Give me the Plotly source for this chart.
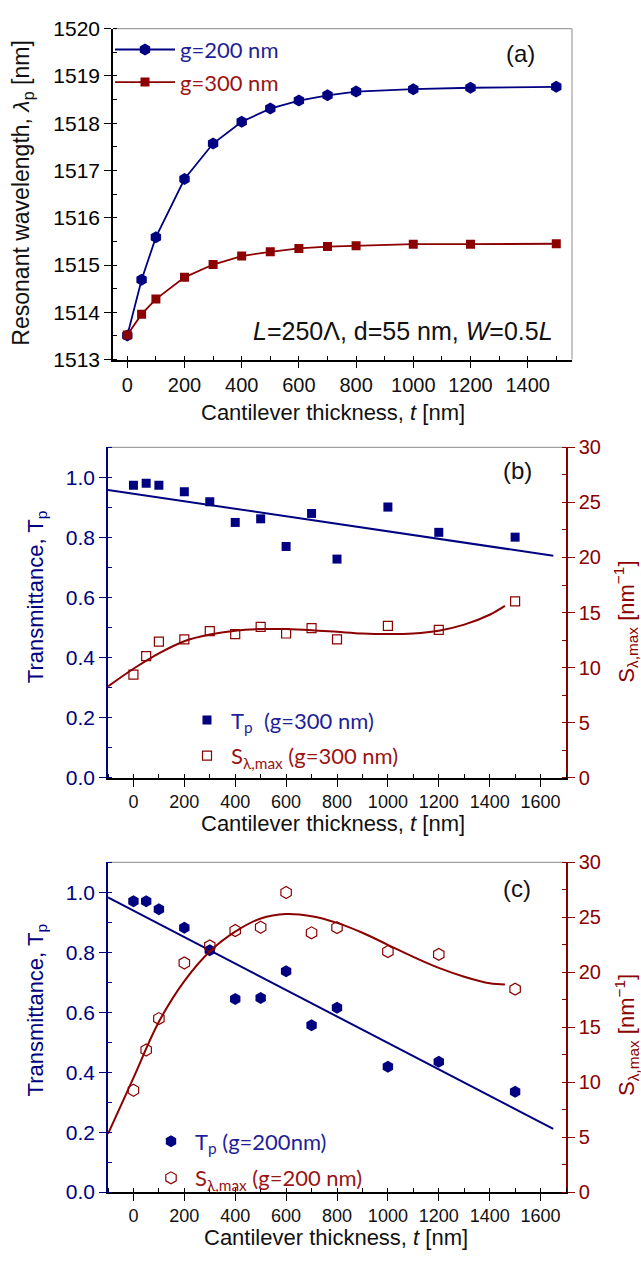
import plotly.graph_objects as go

W, H = 641, 1262

BLUE = "#000080"
RED = "#8b0000"
BLUE_TXT = "#1f1f99"
RED_TXT = "#9a1414"
FRAME = "#a0a0a0"
AXIS_FONT = "Liberation Sans, Arial, sans-serif"
LEG_FONT = "Lato, sans-serif"

# ---- data ----
thickness = [0, 50, 100, 200, 300, 400, 500, 600, 700, 800, 1000, 1200, 1500]

# (a) resonant wavelength [nm]
lam_g200 = [1513.51, 1514.69, 1515.59, 1516.82, 1517.57, 1518.03, 1518.31,
            1518.48, 1518.59, 1518.67, 1518.72, 1518.75, 1518.77]
lam_g300 = [1513.52, 1513.96, 1514.28, 1514.74, 1515.01, 1515.19, 1515.28,
            1515.35, 1515.39, 1515.41, 1515.44, 1515.44, 1515.45]

# (b) g = 300 nm
tp_g300 = [0.974, 0.980, 0.974, 0.952, 0.919, 0.850, 0.862, 0.770, 0.880,
           0.728, 0.901, 0.817, 0.801]
s_g300 = [9.36, 11.05, 12.36, 12.57, 13.31, 13.04, 13.70, 13.10, 13.58,
          12.57, 13.79, 13.43, 16.01]

# (c) g = 200 nm
tp_g200 = [0.970, 0.970, 0.944, 0.882, 0.807, 0.644, 0.648, 0.737, 0.557,
           0.615, 0.418, 0.435, 0.335]
s_g200 = [9.27, 12.93, 15.79, 20.85, 22.40, 23.80, 24.10, 27.26, 23.59,
          24.07, 21.89, 21.63, 18.47]

# fitted trend lines
tp_fit_x = [-100, 1650]
tp_fit_g300 = [0.958, 0.739]
tp_fit_g200 = [0.983, 0.211]

s_fit_x = [-100, 0, 100, 200, 300, 400, 500, 600, 700, 800, 900, 1000,
           1100, 1200, 1300, 1400, 1460]
s_fit_g300 = [8.3, 9.9, 11.3, 12.4, 13.0, 13.35, 13.5, 13.5, 13.4, 13.25,
              13.1, 13.05, 13.1, 13.35, 13.9, 14.8, 15.6]
s_fit_g200 = [5.3, 10.4, 15.5, 19.2, 21.9, 23.7, 24.9, 25.3, 25.1, 24.5,
              23.6, 22.5, 21.4, 20.4, 19.6, 19.0, 18.9]


def dom_x(left, right):
    return [left / W, right / W]


def dom_y(top, bottom):
    return [1 - bottom / H, 1 - top / H]


def px(x):
    return x / W


def py(y):
    return 1 - y / H


fig = go.Figure()

# ---- (a) ----
fig.add_trace(go.Scatter(
    x=thickness, y=lam_g200, mode="lines+markers", xaxis="x", yaxis="y",
    name=f'<span style="color:{BLUE_TXT}">g=200 nm</span>',
    line=dict(color=BLUE, width=1.8),
    marker=dict(symbol="hexagon", size=12, color=BLUE),
    legend="legend", legendgroup="a1"))
fig.add_trace(go.Scatter(
    x=thickness, y=lam_g300, mode="lines+markers", xaxis="x", yaxis="y",
    name=f'<span style="color:{RED_TXT}">g=300 nm</span>',
    line=dict(color=RED, width=1.8),
    marker=dict(symbol="square", size=9, color=RED),
    legend="legend", legendgroup="a2"))

# ---- (b) ----
fig.add_trace(go.Scatter(
    x=tp_fit_x, y=tp_fit_g300, mode="lines", xaxis="x2", yaxis="y2",
    line=dict(color=BLUE, width=2), showlegend=False))
fig.add_trace(go.Scatter(
    x=s_fit_x, y=s_fit_g300, mode="lines", xaxis="x2", yaxis="y3",
    line=dict(color=RED, width=2, shape="spline", smoothing=1.0),
    showlegend=False))
fig.add_trace(go.Scatter(
    x=thickness, y=tp_g300, mode="markers", xaxis="x2", yaxis="y2",
    name=f'<span style="color:{BLUE_TXT}">T<sub>p</sub>\u00a0 (g=300 nm)</span>',
    marker=dict(symbol="square", size=9, color=BLUE),
    legend="legend2", legendgroup="b1"))
fig.add_trace(go.Scatter(
    x=thickness, y=s_g300, mode="markers", xaxis="x2", yaxis="y3",
    name=f'<span style="color:{RED_TXT}">S<sub>λ,max</sub> (g=300 nm)</span>',
    marker=dict(symbol="square-open", size=9, color=RED, line=dict(width=1.2)),
    legend="legend2", legendgroup="b2"))

# ---- (c) ----
fig.add_trace(go.Scatter(
    x=tp_fit_x, y=tp_fit_g200, mode="lines", xaxis="x3", yaxis="y4",
    line=dict(color=BLUE, width=2), showlegend=False))
fig.add_trace(go.Scatter(
    x=s_fit_x, y=s_fit_g200, mode="lines", xaxis="x3", yaxis="y5",
    line=dict(color=RED, width=2, shape="spline", smoothing=1.0),
    showlegend=False))
fig.add_trace(go.Scatter(
    x=thickness, y=tp_g200, mode="markers", xaxis="x3", yaxis="y4",
    name=f'<span style="color:{BLUE_TXT}">T<sub>p</sub> (g=200nm)</span>',
    marker=dict(symbol="hexagon", size=12, color=BLUE),
    legend="legend3", legendgroup="c1"))
fig.add_trace(go.Scatter(
    x=thickness, y=s_g200, mode="markers", xaxis="x3", yaxis="y5",
    name=f'<span style="color:{RED_TXT}">S<sub>λ,max</sub> (g=200 nm)</span>',
    marker=dict(symbol="hexagon-open", size=12, color=RED, line=dict(width=1.2)),
    legend="legend3", legendgroup="c2"))


def xaxis_cfg(domain, anchor, rng, size):
    return dict(
        domain=domain, anchor=anchor, range=rng, dtick=200, tick0=0,
        showline=True, linecolor="#000000", linewidth=1.5,
        ticks="outside", ticklen=7, tickwidth=1.3, tickcolor="#000000",
        minor=dict(ticks="inside", ticklen=4, tickwidth=1.2, dtick=100,
                   tickcolor="#000000", showgrid=False),
        showgrid=False, zeroline=False,
        tickfont=dict(family=AXIS_FONT, size=size, color="#111111"))


def yaxis_cfg(domain, anchor, rng, dtick, color, size, side="left",
              overlaying=None, fmt=None):
    cfg = dict(
        domain=domain, anchor=anchor, range=rng, dtick=dtick, tick0=0,
        side=side, showline=True, linecolor=color, linewidth=1.5,
        ticks="outside", ticklen=7, tickwidth=1.3, tickcolor=color,
        minor=dict(ticks="inside", ticklen=4, tickwidth=1.2, dtick=dtick / 2,
                   tickcolor=color, showgrid=False),
        showgrid=False, zeroline=False,
        tickfont=dict(family=AXIS_FONT, size=size, color=color))
    if overlaying:
        cfg["overlaying"] = overlaying
    if fmt:
        cfg["tickformat"] = fmt
    return cfg


dom_a_x, dom_a_y = dom_x(113, 572), dom_y(17, 354)
dom_b_x, dom_b_y = dom_x(108, 566), dom_y(443.4, 780)
dom_c_x, dom_c_y = dom_x(108, 566), dom_y(866.2, 1202)

leg_font = dict(family=LEG_FONT, size=22)

fig.update_layout(
    width=W, height=H,
    margin=dict(l=0, r=0, t=0, b=0),
    paper_bgcolor="white", plot_bgcolor="white",
    xaxis=xaxis_cfg(dom_a_x, "y", [-50, 1555], 20),
    yaxis=yaxis_cfg(dom_a_y, "x", [1513, 1520], 1, "#000000", 21, fmt="d"),
    xaxis2=xaxis_cfg(dom_b_x, "y2", [-100, 1700], 18),
    yaxis2=yaxis_cfg(dom_b_y, "x2", [0, 1.1], 0.2, BLUE, 21, fmt=".1f"),
    yaxis3=yaxis_cfg(dom_b_y, "x2", [0, 30], 5, RED, 20, side="right",
                     overlaying="y2"),
    xaxis3=xaxis_cfg(dom_c_x, "y4", [-100, 1700], 18),
    yaxis4=yaxis_cfg(dom_c_y, "x3", [0, 1.1], 0.2, BLUE, 21, fmt=".1f"),
    yaxis5=yaxis_cfg(dom_c_y, "x3", [0, 30], 5, RED, 20, side="right",
                     overlaying="y4"),
    legend=dict(x=px(110), y=py(17), xanchor="left", yanchor="top",
                bgcolor="rgba(0,0,0,0)", tracegroupgap=1, itemwidth=60,
                font=leg_font),
    legend2=dict(x=px(183), y=py(700), xanchor="left", yanchor="top",
                 bgcolor="rgba(0,0,0,0)", tracegroupgap=4, itemwidth=38,
                 font=leg_font),
    legend3=dict(x=px(147), y=py(1129), xanchor="left", yanchor="top",
                 bgcolor="rgba(0,0,0,0)", tracegroupgap=5, itemwidth=38,
                 font=leg_font),
    showlegend=True,
)

# light frame on the top (and right for panel a)
frame = dict(type="line", line=dict(color=FRAME, width=1.2), layer="below")
fig.add_shape(frame, xref="x domain", yref="y domain", x0=0, x1=1, y0=1, y1=1)
fig.add_shape(frame, xref="x domain", yref="y domain", x0=1, x1=1, y0=0, y1=1)
fig.add_shape(frame, xref="x2 domain", yref="y2 domain", x0=0, x1=1, y0=1, y1=1)
fig.add_shape(frame, xref="x3 domain", yref="y4 domain", x0=0, x1=1, y0=1, y1=1)


def note(text, x, y, size, color="#111111", angle=0, xanchor="center",
         family=AXIS_FONT):
    fig.add_annotation(text=text, x=px(x), y=py(y), xref="paper", yref="paper",
                       showarrow=False, textangle=angle, xanchor=xanchor,
                       yanchor="middle",
                       font=dict(family=family, size=size, color=color))


xtitle = "Cantilever thickness, <i>t</i> [nm]"
note(xtitle, 333, 408, 22)
note(xtitle, 333, 827, 22)
note(xtitle, 336, 1248, 22)

note("Resonant wavelength, <i>λ</i><sub>p</sub> [nm]", 23, 185, 23, angle=-90)
note("Transmittance, T<sub>p</sub>", 37, 596, 22, color=BLUE, angle=-90)
note("Transmittance, T<sub>p</sub>", 37, 1017, 22, color=BLUE, angle=-90)
note("S<sub>λ,max</sub> [nm<sup>−1</sup>]", 626, 621, 22, color=RED, angle=-90)
note("S<sub>λ,max</sub> [nm<sup>−1</sup>]", 626, 1042, 22, color=RED, angle=-90)

note("(a)", 520, 42, 24)
note("(b)", 517, 467, 24)
note("(c)", 517, 893, 24)

note("<i>L</i>=250Λ, d=55 nm, <i>W</i>=0.5<i>L</i>", 555, 325, 25,
     xanchor="right")

fig.write_html("out.html")
